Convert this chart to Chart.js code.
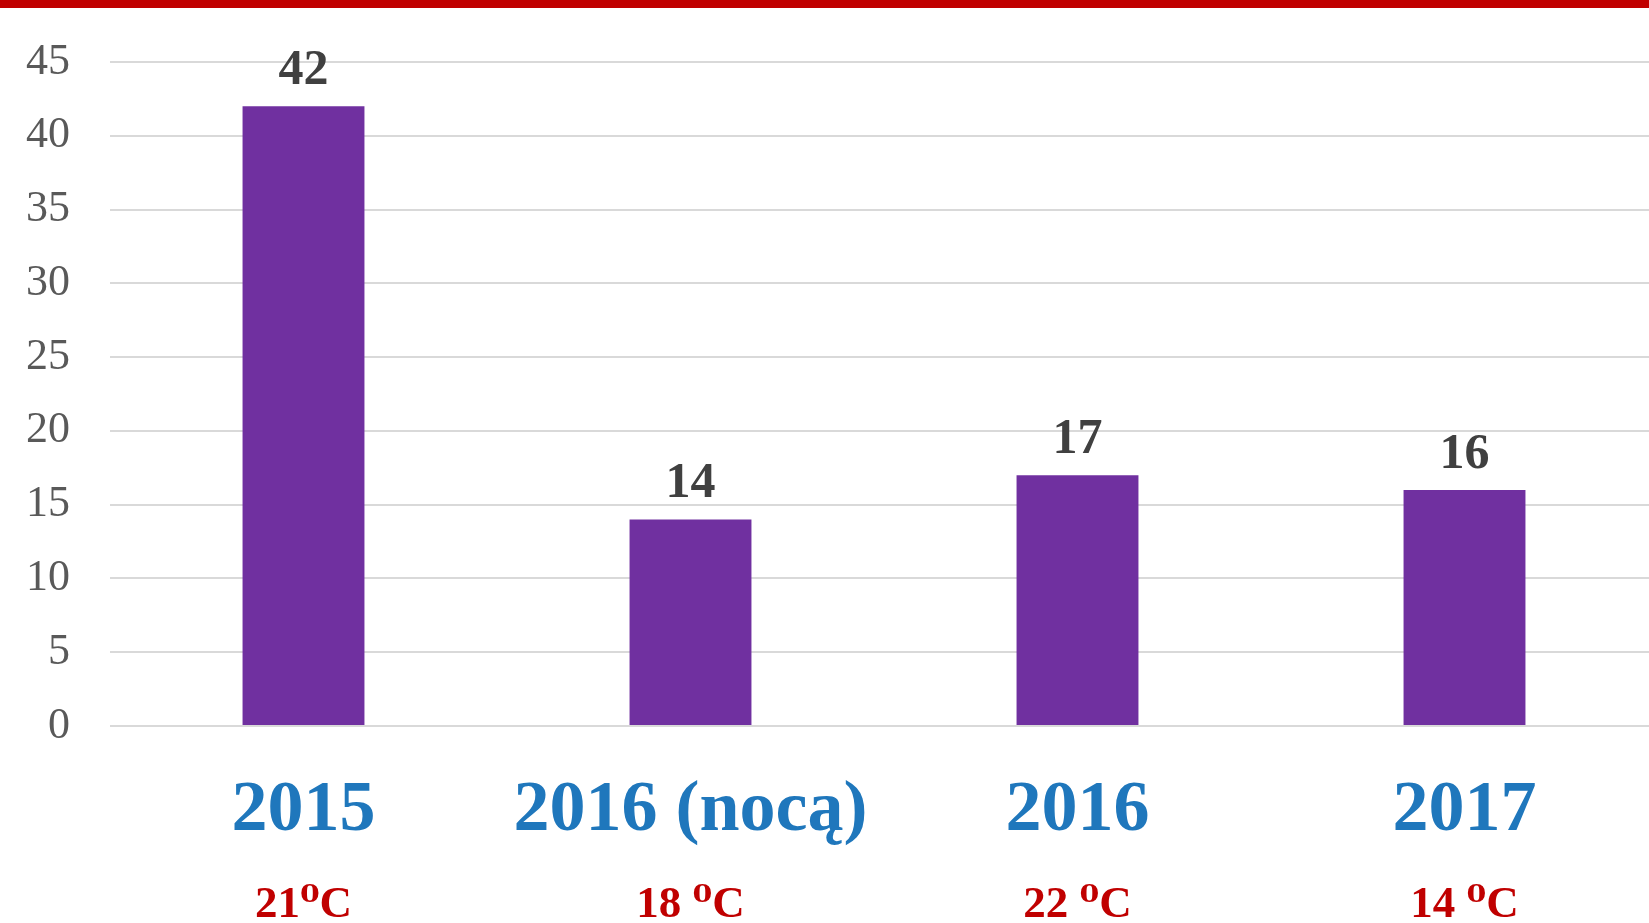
<!DOCTYPE html>
<html>
<head>
<meta charset="utf-8">
<script src="https://cdn.jsdelivr.net/npm/chart.js@4/dist/chart.umd.min.js"></script>
<style>
    html, body { margin: 0; padding: 0; background: #fff; overflow: hidden; }
    #topbar { position: absolute; left: 0; top: 0; width: 100%; height: 8px; background: #C00000; z-index: 2; }
    #chart-container { position: absolute; left: 0; top: 0; width: 1660px; height: 935px; }
</style>
</head>
<body>
<div id="topbar"></div>
<div id="chart-container"><canvas id="chart"></canvas></div>
<script>
// Chart data
const categories = ['2015', '2016 (nocą)', '2016', '2017'];
const temperatures = ['21⁰C', '18 ⁰C', '22 ⁰C', '14 ⁰C'];
const values = [42, 14, 17, 16];
const yTicks = [0, 5, 10, 15, 20, 25, 30, 35, 40, 45];

const serif = "'Liberation Serif', 'DejaVu Serif', serif";

// Value labels above the bars
const valueLabels = {
    id: 'valueLabels',
    afterDatasetsDraw(chart) {
        const ctx = chart.ctx;
        const meta = chart.getDatasetMeta(0);
        ctx.save();
        ctx.font = 'bold 50px ' + serif;
        ctx.fillStyle = '#404040';
        ctx.textAlign = 'center';
        ctx.textBaseline = 'alphabetic';
        meta.data.forEach(function(bar, i) {
            ctx.fillText(String(values[i]), bar.x, bar.y - 22);
        });
        ctx.restore();
    }
};

const ctx = document.getElementById('chart');
new Chart(ctx, {
    type: 'bar',
    data: {
        labels: categories,
        datasets: [{
            data: values,
            backgroundColor: '#7030A0',
            borderWidth: 0,
            categoryPercentage: 1,
            barPercentage: 0.315,
            xAxisID: 'x',
            yAxisID: 'y'
        }]
    },
    options: {
        responsive: true,
        maintainAspectRatio: false,
        animation: false,
        layout: { padding: { left: 26, right: 2, top: 62, bottom: 6 } },
        plugins: {
            legend: { display: false },
            tooltip: { enabled: false }
        },
        scales: {
            y: {
                min: 0,
                max: 45,
                afterBuildTicks: function(axis) {
                    axis.ticks = yTicks.map(v => ({ value: v }));
                },
                afterFit: function(axis) { axis.width = 84; },
                grid: { color: '#D9D9D9', lineWidth: 2, drawTicks: false },
                border: { display: false },
                ticks: {
                    padding: 40,
                    color: '#595959',
                    font: { family: serif, size: 44, lineHeight: 1 }
                }
            },
            x: {
                position: 'bottom',
                afterFit: function(axis) { axis.height = 126; },
                grid: { display: false, drawTicks: false },
                border: { display: false },
                ticks: {
                    autoSkip: false,
                    maxRotation: 0,
                    padding: 42,
                    color: '#1F77BC',
                    font: { family: serif, size: 72, weight: 'bold', lineHeight: 1.2 }
                }
            },
            x2: {
                type: 'category',
                position: 'bottom',
                labels: temperatures,
                afterFit: function(axis) { axis.height = 77; },
                grid: { display: false, drawTicks: false },
                border: { display: false },
                ticks: {
                    autoSkip: false,
                    maxRotation: 0,
                    padding: 26,
                    color: '#C00000',
                    font: { family: serif, size: 45, weight: 'bold', lineHeight: 1.2 }
                }
            }
        }
    },
    plugins: [valueLabels]
});
</script>
</body>
</html>
